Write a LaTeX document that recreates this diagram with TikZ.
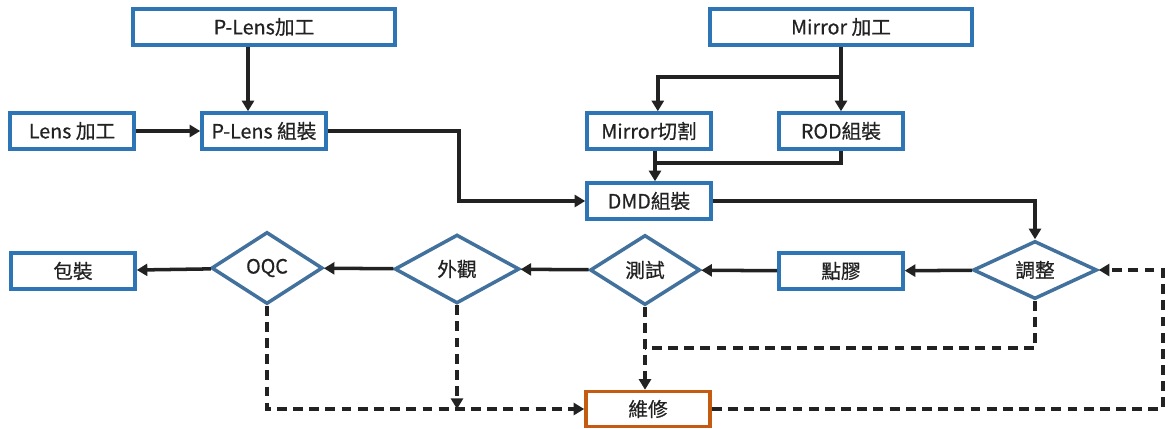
\documentclass[tikz,border=0pt]{standalone}
\usepackage{fontspec}
\setmainfont{Noto Sans CJK TC}[FakeBold=0.6]
\usepackage{xcolor}
\usepackage{tikz}
\usetikzlibrary{shapes.geometric, arrows.meta, positioning}
\definecolor{boxblue}{HTML}{2E75B6}
\definecolor{diamblue}{HTML}{41719C}
\definecolor{repairorange}{HTML}{C55A11}
\definecolor{inkdark}{HTML}{222222}

\begin{document}
\begin{tikzpicture}[x=0.025cm, y=-0.025cm,
    box/.style={rectangle, draw=boxblue, line width=2.5pt, minimum width=3.1cm, minimum height=0.9cm, align=center, font=\fontsize{14}{16}\selectfont, text=inkdark},
    wide/.style={box, minimum width=6.55cm},
    check/.style={diamond, draw=diamblue, line width=2.5pt, inner sep=0pt, align=center, font=\fontsize{14}{16}\selectfont, text=inkdark},
    arrow/.style={-{Triangle[length=7.5pt, width=8.5pt]}, line width=2.5pt, draw=inkdark},
    line/.style={line width=2.5pt, draw=inkdark},
    dashline/.style={line width=2.5pt, draw=inkdark, dash pattern=on 7pt off 4.5pt},
    dasharrow/.style={dashline, -{Triangle[length=7.5pt, width=8.5pt]}}
]
\useasboundingbox (0,0) rectangle (1171,428);

% supply side
\node[wide] (plensmk) at (264,27) {P-Lens加工};
\node[wide] (mirmk) at (841,27) {Mirror 加工};
\node[box] (lensmk) at (72,131) {Lens 加工};
\node[box] (plensasm) at (264,131) {P-Lens 組裝};
\node[box] (mircut) at (649,131) {Mirror切割};
\node[box] (rodasm) at (841,131) {ROD組裝};
\node[box] (dmdasm) at (649,201) {DMD組裝};

% process line
\node[check, minimum width=3.1cm, minimum height=1.45cm] (adjust) at (1035,270) {調整};
\node[box] (glue) at (841,271) {點膠};
\node[check, minimum width=2.75cm, minimum height=1.75cm] (test) at (645,270) {測試};
\node[check, minimum width=3.12cm, minimum height=1.72cm] (look) at (457,269) {外觀};
\node[check, minimum width=2.78cm, minimum height=1.8cm] (oqc) at (267,268) {OQC};
\node[box] (pack) at (73,271) {包裝};
\node[box, draw=repairorange, minimum height=0.875cm] (repair) at (648,409) {維修};

\coordinate (plx) at (248,0);
\coordinate (split) at (841,77);
\coordinate (join) at (655,163);
\coordinate (fixjoin) at (645,348);

\draw[arrow] (plensmk.south -| plx) -- (plensasm.north -| plx);
\draw[arrow] (lensmk) -- (plensasm);
\draw[arrow] (plensasm.east) -- ++(131,0) |- (dmdasm.west);
\draw[arrow] (mirmk) -- (rodasm);
\draw[arrow] (split) -| ([xshift=0.22cm]mircut.north);
\draw[arrow] ([xshift=0.15cm]mircut.south) -- ([xshift=0.15cm]dmdasm.north);
\draw[line] (rodasm.south) |- (join);
\draw[arrow] (dmdasm.east) -| (adjust.north);

\draw[arrow] (adjust) -- (glue);
\draw[arrow] (glue) -- (test);
\draw[arrow] (test) -- (look);
\draw[arrow] (look) -- (oqc);
\draw[arrow] (oqc) -- (pack);

% repair loop
\draw[dasharrow] (test.south) -- (test.south |- repair.north);
\draw[dashline] (adjust.south) |- (fixjoin);
\draw[dasharrow] (oqc.south) |- (repair.west);
\draw[dasharrow] (look.south) -- (look.south |- repair.west);
\draw[dasharrow] (repair.east) -- ++(451,0) |- (adjust.east);
\end{tikzpicture}
\end{document}
